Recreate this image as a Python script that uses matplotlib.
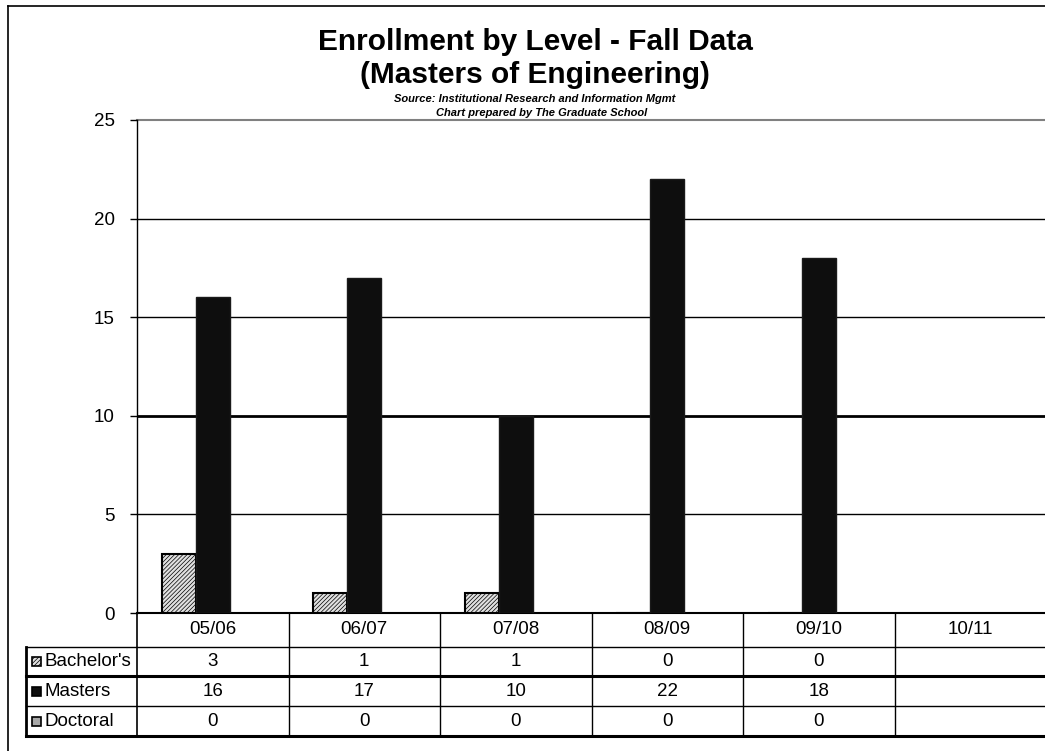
import matplotlib
matplotlib.use('Agg')
import matplotlib.pyplot as plt
import matplotlib.transforms as mtransforms
from matplotlib.lines import Line2D
from matplotlib.patches import Rectangle
import numpy as np

plt.rcParams['font.family'] = ['Liberation Sans', 'DejaVu Sans']
plt.rcParams['hatch.linewidth'] = 0.5

# data
years = ['05/06', '06/07', '07/08', '08/09', '09/10', '10/11']
bachelors = [3, 1, 1, 0, 0]
masters = [16, 17, 10, 22, 18]
doctoral = [0, 0, 0, 0, 0]
series_names = ["Bachelor's", 'Masters', 'Doctoral']
y_ticks = [0, 5, 10, 15, 20, 25]

W, H = 1045, 751
fig = plt.figure(figsize=(W / 100, H / 100), dpi=100)

def fx(px):
    return px / W

def fy(py):
    return 1 - py / H

ax = fig.add_axes([fx(137), fy(613), fx(1046) - fx(137), fy(120) - fy(613)])
ax.set_xlim(-0.5, len(years) - 0.5)
ax.set_ylim(0, 25)

# gridlines
for v in y_ticks[1:]:
    if v == 10:
        ax.axhline(v, color='black', lw=2.0, zorder=1)
    elif v == 25:
        ax.axhline(v, color='#808080', lw=1.5, zorder=1, clip_on=False)
    else:
        ax.axhline(v, color='black', lw=1.0, zorder=1)

w = 0.225
x = np.arange(len(bachelors))
ax.bar(x - w, bachelors, w, facecolor='#e0e0e0', edgecolor='black',
       hatch='////////', linewidth=1.5, zorder=3)
ax.bar(x, masters, w, facecolor='#0e0e0e', edgecolor='#1a1a1a',
       linewidth=1.0, zorder=3)
ax.bar(x + w, doctoral, w, facecolor='#a8a8a8', edgecolor='black',
       linewidth=0, zorder=3)

for s in ['top', 'right']:
    ax.spines[s].set_visible(False)
ax.spines['left'].set_linewidth(1.0)
ax.spines['bottom'].set_linewidth(1.5)
ax.set_xticks([])
ax.set_yticks(y_ticks)
ax.tick_params(axis='y', length=5, width=1, pad=11, labelsize=13.5, colors='black')

# data table under the axes
trans = mtransforms.blended_transform_factory(ax.transData, fig.transFigure)
rows_px = [613, 647, 676, 706, 736]
fs = 13.5
for i, yr in enumerate(years):
    ax.text(i, fy(630), yr, transform=trans, ha='center', va='center', fontsize=fs)
table_vals = [bachelors, masters, doctoral]
for r, vals in enumerate(table_vals):
    yc = fy((rows_px[r + 1] + rows_px[r + 2]) / 2)
    for i, v in enumerate(vals):
        ax.text(i, yc, str(v), transform=trans, ha='center', va='center', fontsize=fs)

# column separators
for i in range(len(years) - 1):
    fig.add_artist(Line2D([i + 0.5, i + 0.5], [fy(613), fy(736)], transform=trans,
                          color='black', lw=1.0))
fig.add_artist(Line2D([fx(137), fx(137)], [fy(613), fy(736)], color='black', lw=1.2))
fig.add_artist(Line2D([fx(26), fx(26)], [fy(647), fy(736)], color='black', lw=2.0))
for py, lw in zip(rows_px[1:], [1.0, 2.2, 1.0, 2.2]):
    fig.add_artist(Line2D([fx(26), 1], [fy(py), fy(py)], color='black', lw=lw))

# legend keys in row headers
key_styles = [dict(facecolor='#e0e0e0', hatch='////////'),
              dict(facecolor='#0e0e0e'),
              dict(facecolor='#a8a8a8')]
for r, name in enumerate(series_names):
    yc = (rows_px[r + 1] + rows_px[r + 2]) / 2
    fig.add_artist(Rectangle((fx(32), fy(yc + 4.5)), fx(9), 9 / H, edgecolor='black',
                             linewidth=1.2, **key_styles[r]))
    fig.text(fx(45), fy(yc), name, ha='left', va='center', fontsize=fs)

# outer chart frame
fig.add_artist(Line2D([fx(8), fx(8)], [0, fy(6)], color='black', lw=1.2))
fig.add_artist(Line2D([fx(8), 1], [fy(6), fy(6)], color='black', lw=1.2))

# titles
fig.text(fx(535), fy(50), 'Enrollment by Level - Fall Data', ha='center', va='baseline',
         fontsize=21.5, fontweight='bold')
fig.text(fx(535), fy(83), '(Masters of Engineering)', ha='center', va='baseline',
         fontsize=21.5, fontweight='bold')
fig.text(fx(535), fy(102), 'Source: Institutional Research and Information Mgmt',
         ha='center', va='baseline', fontsize=8, fontweight='bold', style='italic')
fig.text(fx(542), fy(116), 'Chart prepared by The Graduate School',
         ha='center', va='baseline', fontsize=8, fontweight='bold', style='italic')

fig.savefig('out.png', dpi=100)
